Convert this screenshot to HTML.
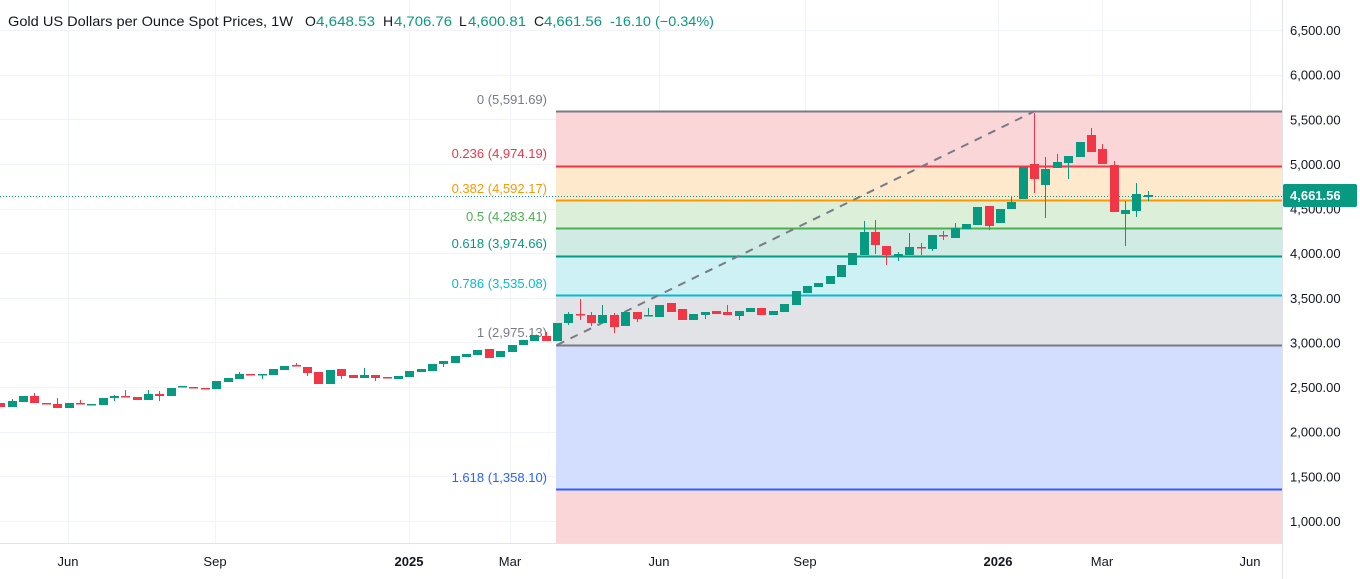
<!DOCTYPE html>
<html><head><meta charset="utf-8"><style>
html,body{margin:0;padding:0;background:#fff;}
svg{display:block;font-family:"Liberation Sans",sans-serif;}
</style></head><body>
<svg id="c" width="1360" height="579" viewBox="0 0 1360 579" xmlns="http://www.w3.org/2000/svg">
<rect width="1360" height="579" fill="#fff"/>
<g id="grid" stroke="#f0f3fa" stroke-width="1"></g>
<rect x="556" y="111" width="726" height="55" fill="#fad6d9"/>
<rect x="556" y="166" width="726" height="34" fill="#ffe9cc"/>
<rect x="556" y="200" width="726" height="28" fill="#dcefd9"/>
<rect x="556" y="228" width="726" height="28" fill="#d0ebe4"/>
<rect x="556" y="256" width="726" height="39" fill="#cdf1f4"/>
<rect x="556" y="295" width="726" height="50" fill="#e2e3e6"/>
<rect x="556" y="345" width="726" height="144" fill="#d3deff"/>
<rect x="556" y="489" width="726" height="54" fill="#fad6d9"/>
<g stroke-width="2">
<line x1="556" y1="111.5" x2="1282" y2="111.5" stroke="#787b86"/>
<line x1="556" y1="166.5" x2="1282" y2="166.5" stroke="#f23645"/>
<line x1="556" y1="200.5" x2="1282" y2="200.5" stroke="#ff9800"/>
<line x1="556" y1="228.5" x2="1282" y2="228.5" stroke="#4caf50"/>
<line x1="556" y1="256.5" x2="1282" y2="256.5" stroke="#089981"/>
<line x1="556" y1="295.5" x2="1282" y2="295.5" stroke="#00bcd4"/>
<line x1="556" y1="345.5" x2="1282" y2="345.5" stroke="#787b86"/>
<line x1="556" y1="489.5" x2="1282" y2="489.5" stroke="#2962ff"/>
</g>
<g font-size="13" text-anchor="end">
<text x="547" y="104" fill="#787b86">0 (5,591.69)</text>
<text x="547" y="158" fill="#f23645">0.236 (4,974.19)</text>
<text x="547" y="193" fill="#ff9800">0.382 (4,592.17)</text>
<text x="547" y="221" fill="#4caf50">0.5 (4,283.41)</text>
<text x="547" y="248" fill="#089981">0.618 (3,974.66)</text>
<text x="547" y="288" fill="#00bcd4">0.786 (3,535.08)</text>
<text x="547" y="337" fill="#787b86">1 (2,975.13)</text>
<text x="547" y="482" fill="#2962ff">1.618 (1,358.10)</text>
</g>
<line x1="557" y1="345" x2="1035" y2="111" stroke="#787b86" stroke-width="2" stroke-dasharray="8,7"/>
<line x1="0" y1="196.5" x2="1282" y2="196.5" stroke="#089981" stroke-width="1" stroke-dasharray="1,2"/>
<g id="candles"></g>
<line x1="1282.5" y1="0" x2="1282.5" y2="579" stroke="#e0e3eb"/>
<line x1="0" y1="543.5" x2="1282" y2="543.5" stroke="#e0e3eb"/>
<g id="yl" font-size="13" fill="#131722"></g>
<rect x="1283" y="184" width="74" height="23" rx="2" fill="#089981"/>
<text x="1290" y="200" font-size="13" fill="#fff" font-weight="bold">4,661.56</text>
<g font-size="13" fill="#131722" text-anchor="middle">
<text x="68" y="566">Jun</text><text x="215" y="566">Sep</text>
<text x="409" y="566" font-weight="bold">2025</text><text x="510" y="566">Mar</text>
<text x="659" y="566">Jun</text><text x="805" y="566">Sep</text>
<text x="998" y="566" font-weight="bold">2026</text><text x="1102" y="566">Mar</text>
<text x="1250" y="566">Jun</text>
</g>
<g font-size="14">
<text x="8" y="26" fill="#131722" textLength="285" lengthAdjust="spacingAndGlyphs">Gold US Dollars per Ounce Spot Prices, 1W</text>
<text x="305" y="26" fill="#131722">O</text><text x="316" y="26" fill="#089981" textLength="59" lengthAdjust="spacingAndGlyphs">4,648.53</text>
<text x="383" y="26" fill="#131722">H</text><text x="394" y="26" fill="#089981" textLength="58" lengthAdjust="spacingAndGlyphs">4,706.76</text>
<text x="459" y="26" fill="#131722">L</text><text x="468" y="26" fill="#089981" textLength="58" lengthAdjust="spacingAndGlyphs">4,600.81</text>
<text x="534" y="26" fill="#131722">C</text><text x="544" y="26" fill="#089981" textLength="58" lengthAdjust="spacingAndGlyphs">4,661.56</text>
<text x="610" y="26" fill="#089981" textLength="104" lengthAdjust="spacingAndGlyphs">-16.10 (−0.34%)</text>
</g>
</svg>
<script>
var NS="http://www.w3.org/2000/svg";
function el(p,t,a){var e=document.createElementNS(NS,t);for(var k in a)e.setAttribute(k,a[k]);p.appendChild(e);return e;}
var grid=document.getElementById("grid"),yl=document.getElementById("yl");
var prices=[6500,6000,5500,5000,4500,4000,3500,3000,2500,2000,1500,1000];
prices.forEach(function(p){var y=30+(6500-p)*0.089273;
 el(grid,"line",{x1:0,y1:Math.round(y)+.5,x2:1282,y2:Math.round(y)+.5});
 var t=el(yl,"text",{x:1290,y:y+5});t.textContent=p.toLocaleString("en-US",{minimumFractionDigits:2});});
[68,215,409,510,659,805,998,1102,1250].forEach(function(x){el(grid,"line",{x1:x+.5,y1:0,x2:x+.5,y2:543});});
var d=[
["r",403,407],["g",401,407,399],["g",396,402],["r",396,403,393],["r",403,404],["r",404,408,398],["g",403,408],["r",403,404,400],["g",404,405],["g",398,405],
["g",396,398,395,401],["r",396,397,390],["r",397,400],["g",394,400,390],["r",394,396,391,401],["g",388,396],["g",386,387],["r",387,388],["r",388,389],["g",381,389],
["g",378,382],["g",374,379,372],["r",374,375],["g",374,375,374,379],["g",369,375],["g",366,370],["r",365,366,363],["r",367,373,367,376],["r",372,384],["g",370,384],
["r",369,376,369,379],["r",375,378],["g",375,378,368],["r",375,378,375,381],["r",377,378],["g",376,379],["g",371,377],["g",369,372],["g",364,371],["g",361,364,361,367],
["g",356,363],["g",354,357],["g",350,355],["r",349,358],["g",351,357],["g",345,352],["g",340,345],["g",335,341],["r",336,341,332],["g",323,341],
["g",314,323,312,325],["r",314,315,299,320],["r",315,323,312,326],["g",315,323,305],["r",315,327,313,333],["g",312,326],["r",312,319,312,322],["g",315,316,308],["g",305,317],["r",303,312],
["r",309,320],["g",314,320],["g",312,315,312,319],["r",311,314],["r",312,315,305],["g",311,316,311,320],["g",308,312],["r",308,315],["g",311,315],["g",304,312],
["g",291,305],["g",286,293],["g",283,287],["g",276,284],["g",265,277],["g",253,265],["g",232,255,221],["r",232,245,220,254],["r",246,255,246,265],["g",254,257,252,261],
["g",247,255,233],["r",247,248,243,255],["g",235,249,235,251],["r",235,236,231,240],["g",228,238,223],["g",224,229],["g",207,225],["r",206,226,206,230],["g",209,223],["g",202,209,197],
["g",167,199],["r",164,179,113,193],["g",169,185,157,218],["g",162,168,154],["g",156,163,156,179],["g",142,157],["r",135,152,128],["r",149,164,144],["r",165,212,161],["g",210,214,201,246],
["g",194,211,183,217],["g",195,197,191,201]
];
var cg=document.getElementById("candles");
d.forEach(function(c,i){
 var x=Math.round(557+(i-49)*11.36),col=c[0]=="g"?"#089981":"#f23645";
 var t=c[1],b=c[2],h=c[3]!==undefined?c[3]:t,l=c[4]!==undefined?c[4]:b;
 if(b-t<1.5){b=t+1.5;}
 el(cg,"line",{x1:x+.5,y1:h,x2:x+.5,y2:l,stroke:col,"stroke-width":1});
 el(cg,"rect",{x:x-4,y:t,width:9,height:b-t,fill:col});
});
</script>
</body></html>
